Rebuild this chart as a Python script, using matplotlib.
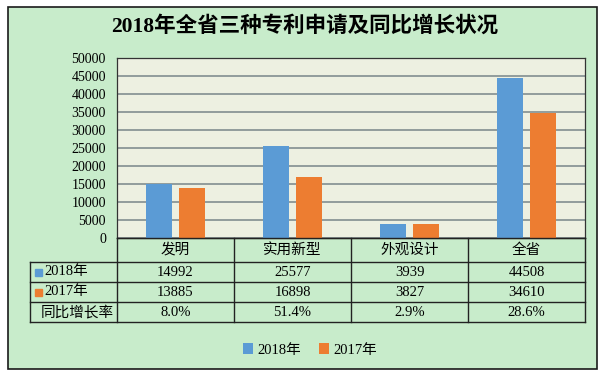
import matplotlib.pyplot as plt
from matplotlib.patches import Rectangle

# 数据
cats = ['发明', '实用新型', '外观设计', '全省']
y2018 = [14992, 25577, 3939, 44508]
y2017 = [13885, 16898, 3827, 34610]
rate = ['8.0%', '51.4%', '2.9%', '28.6%']
series = ['2018年', '2017年']
title = '2018年全省三种专利申请及同比增长状况'

W, H = 610, 378
c18, c17 = '#5B9BD5', '#ED7D31'
green = '#C8ECCB'
fam = ['Liberation Serif', 'Noto Sans CJK SC']
plt.rcParams['font.family'] = fam

fig = plt.figure(figsize=(W / 100, H / 100), dpi=100)
fig.patch.set_facecolor('white')
fig.add_artist(Rectangle((8 / W, 1 - 369 / H), 589 / W, 362 / H, transform=fig.transFigure,
                         facecolor=green, edgecolor='#1a1a1a', lw=1.2, zorder=0))
fig.text(305 / W, 1 - 26 / H, title, ha='center', va='center', fontsize=15.5, fontweight='bold')

# 柱状图
ax = fig.add_axes([117 / W, 1 - 238 / H, 468 / W, 180 / H])
ax.set_facecolor('#EDF0E1')
x = list(range(len(cats)))
b1 = ax.bar([i - 0.14 for i in x], y2018, 0.22, color=c18, label=series[0], zorder=3)
b2 = ax.bar([i + 0.14 for i in x], y2017, 0.22, color=c17, label=series[1], zorder=3)
ax.set_xlim(-0.5, 3.5)
ax.set_ylim(0, 50000)
ax.set_yticks(range(0, 50001, 5000))
ax.set_xticks([])
ax.yaxis.grid(True, color='#8A9696', lw=1.3, zorder=1)
ax.tick_params(axis='y', length=0, labelsize=10, pad=8)
for s in ax.spines.values():
    s.set_color('#333333')
    s.set_linewidth(0.9)

# 数据表
tb = fig.add_axes([117 / W, 1 - 322 / H, 468 / W, 84 / H])
tb.set_xlim(-0.5, 3.5)
tb.set_ylim(84, 0)
tb.axis('off')
left = -0.5 - 87 / 117
rows = [0, 24, 44, 64, 84]
lc = '#222222'
tb.plot([-0.5, 3.5], [0, 0], color=lc, lw=1, clip_on=False)
for r in rows[1:]:
    tb.plot([left, 3.5], [r, r], color=lc, lw=1, clip_on=False)
tb.plot([left, left], [24, 84], color=lc, lw=1, clip_on=False)
for i in range(len(cats) + 1):
    tb.plot([i - 0.5, i - 0.5], [0, 84], color=lc, lw=1, clip_on=False)

for i, c in enumerate(cats):
    tb.text(i, 12, c, ha='center', va='center', fontsize=10.5)
    tb.text(i, 34, str(y2018[i]), ha='center', va='center', fontsize=10.5)
    tb.text(i, 54, str(y2017[i]), ha='center', va='center', fontsize=10.5)
    tb.text(i, 74, rate[i], ha='center', va='center', fontsize=10.5)

for r, lab, col in [(34, series[0], c18), (54, series[1], c17)]:
    tb.add_patch(Rectangle((left + 0.04, r - 3.5), 0.06, 7, color=col, clip_on=False))
    tb.text(left + 0.12, r, lab, ha='left', va='center', fontsize=10.5, clip_on=False)
tb.text(-0.53, 74, '同比增长率', ha='right', va='center', fontsize=10.5, clip_on=False)

fig.legend(handles=[b1, b2], loc='center', bbox_to_anchor=(310 / W, 1 - 350 / H), ncol=2,
           frameon=False, fontsize=10.5, handlelength=0.7, handleheight=0.7,
           handletextpad=0.3, columnspacing=1.2)

fig.savefig('out.png', dpi=100)
